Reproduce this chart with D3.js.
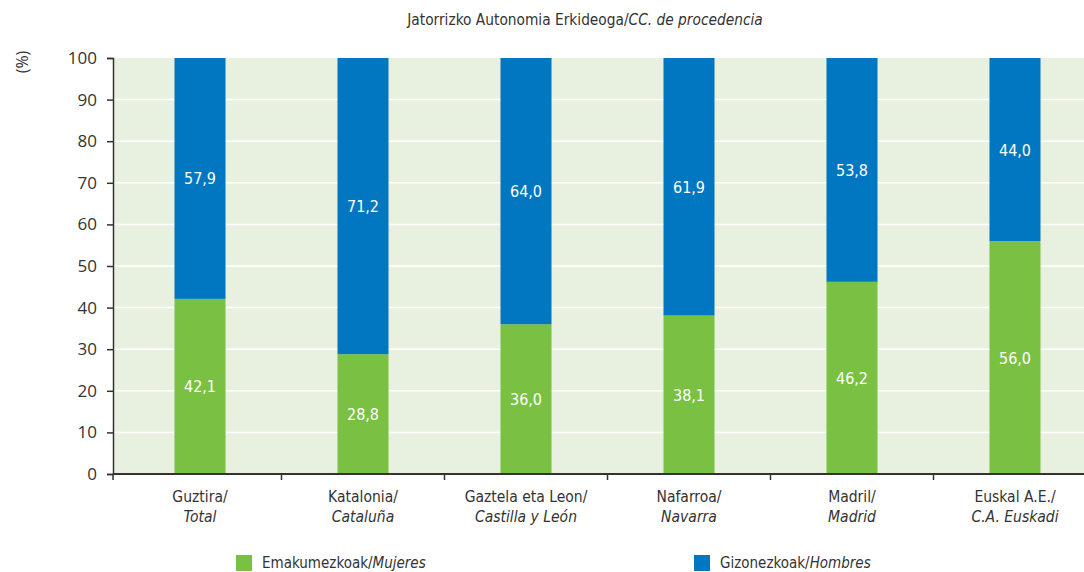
<!DOCTYPE html>
<html><head><meta charset="utf-8">
<script src="https://cdn.jsdelivr.net/npm/d3@7"></script>
<style>
body{margin:0;background:#fff;}
svg{display:block;}
</style></head>
<body><svg id="c" width="1084" height="572"></svg>
<script>
const categoriesEu = ["Guztira/", "Katalonia/", "Gaztela eta Leon/", "Nafarroa/", "Madril/", "Euskal A.E./"];
const categoriesEs = ["Total", "Cataluña", "Castilla y León", "Navarra", "Madrid", "C.A. Euskadi"];
const mujeres = [42.1, 28.8, 36.0, 38.1, 46.2, 56.0];
const hombres = [57.9, 71.2, 64.0, 61.9, 53.8, 44.0];
const yTicks = [0, 10, 20, 30, 40, 50, 60, 70, 80, 90, 100];
const seriesNames = [["Emakumezkoak/", "Mujeres"], ["Gizonezkoak/", "Hombres"]];
const colors = ["#7AC143", "#0077C0"];

const svg = d3.select("#c");
const condensed = "'Liberation Sans Narrow','DejaVu Sans Condensed',sans-serif";
const tickFont = "'Open Sans','Noto Sans',sans-serif";

const plotL = 113, plotR = 1084, plotT = 58, plotB = 474;
const y = d3.scaleLinear().domain([0, 100]).range([plotB, plotT]);
const x = d3.scaleBand().domain(d3.range(categoriesEu.length)).range([118.5, 1096.5]).paddingInner(0.687).paddingOuter(0.3435);

// background
svg.append("rect").attr("x", plotL).attr("y", plotT).attr("width", plotR - plotL).attr("height", plotB - plotT).attr("fill", "#E8F1DF");
// gridlines
svg.append("g").selectAll("line").data(yTicks.filter(d => d > 0 && d < 100)).join("line")
  .attr("x1", plotL).attr("x2", plotR).attr("y1", d => y(d)).attr("y2", d => y(d))
  .attr("stroke", "#fff").attr("stroke-width", 1.5);

// bars
const stacked = categoriesEu.map((c, i) => [
  {i, y0: 0, y1: mujeres[i], v: mujeres[i], s: 0},
  {i, y0: mujeres[i], y1: mujeres[i] + hombres[i], v: hombres[i], s: 1}
]).flat();
svg.append("g").selectAll("rect").data(stacked).join("rect")
  .attr("x", d => x(d.i)).attr("width", x.bandwidth())
  .attr("y", d => y(Math.min(d.y1, 100))).attr("height", d => y(d.y0) - y(Math.min(d.y1, 100)))
  .attr("fill", d => colors[d.s]);

svg.append("g").selectAll("text").data(stacked).join("text")
  .attr("x", d => x(d.i) + x.bandwidth() / 2)
  .attr("y", d => (y(d.y0) + y(Math.min(d.y1, 100))) / 2 + 6)
  .attr("text-anchor", "middle").attr("fill", "#fff")
  .style("font-family", condensed).style("font-size", "16px")
  .text(d => d3.format(".1f")(d.v).replace(".", ","));

// y axis
const yAxis = d3.axisLeft(y).tickValues(yTicks).tickSize(6).tickPadding(10);
const gy = svg.append("g").attr("transform", `translate(${plotL},0)`).call(yAxis);
gy.select(".domain").attr("stroke", "#333").attr("stroke-width", 1.5);
gy.selectAll(".tick line").attr("stroke", "#333").attr("stroke-width", 1.5);
gy.selectAll(".tick text").attr("fill", "#333").style("font-family", tickFont).style("font-size", "17px");

// x axis
svg.append("line").attr("x1", plotL).attr("x2", plotR).attr("y1", plotB).attr("y2", plotB).attr("stroke", "#333").attr("stroke-width", 2);
const step = x.step();
svg.append("g").selectAll("line").data(d3.range(categoriesEu.length)).join("line")
  .attr("x1", (d, i) => i === 0 ? plotL : x(d) - x.paddingOuter() * step)
  .attr("x2", (d, i) => i === 0 ? plotL : x(d) - x.paddingOuter() * step)
  .attr("y1", plotB).attr("y2", plotB + 6).attr("stroke", "#333").attr("stroke-width", 1.5);

const xl = svg.append("g").selectAll("text").data(d3.range(categoriesEu.length)).join("text")
  .attr("text-anchor", "middle").attr("fill", "#333")
  .style("font-family", condensed).style("font-size", "15.5px");
xl.append("tspan").attr("x", d => x(d) + x.bandwidth() / 2).attr("y", 502).text(d => categoriesEu[d]);
xl.append("tspan").attr("x", d => x(d) + x.bandwidth() / 2).attr("y", 522).style("font-style", "italic").text(d => categoriesEs[d]);

// title
const t = svg.append("text").attr("x", 585).attr("y", 25).attr("text-anchor", "middle").attr("fill", "#333")
  .style("font-family", condensed).style("font-size", "15.3px");
t.append("tspan").text("Jatorrizko Autonomia Erkideoga/");
t.append("tspan").style("font-style", "italic").text("CC. de procedencia");

// y label
svg.append("text").attr("transform", "translate(28,62) rotate(-90)").attr("text-anchor", "middle").attr("fill", "#333")
  .style("font-family", tickFont).style("font-size", "16px").text("(%)");

// legend
const legX = [236, 694];
const lg = svg.append("g").selectAll("g").data(seriesNames).join("g")
  .attr("transform", (d, i) => `translate(${legX[i]},555)`);
lg.append("rect").attr("width", 16).attr("height", 16).attr("fill", (d, i) => colors[i]);
const lt = lg.append("text").attr("x", 26).attr("y", 13).attr("fill", "#333")
  .style("font-family", condensed).style("font-size", "15px");
lt.append("tspan").text(d => d[0]);
lt.append("tspan").style("font-style", "italic").text(d => d[1]);
</script>
</body></html>
